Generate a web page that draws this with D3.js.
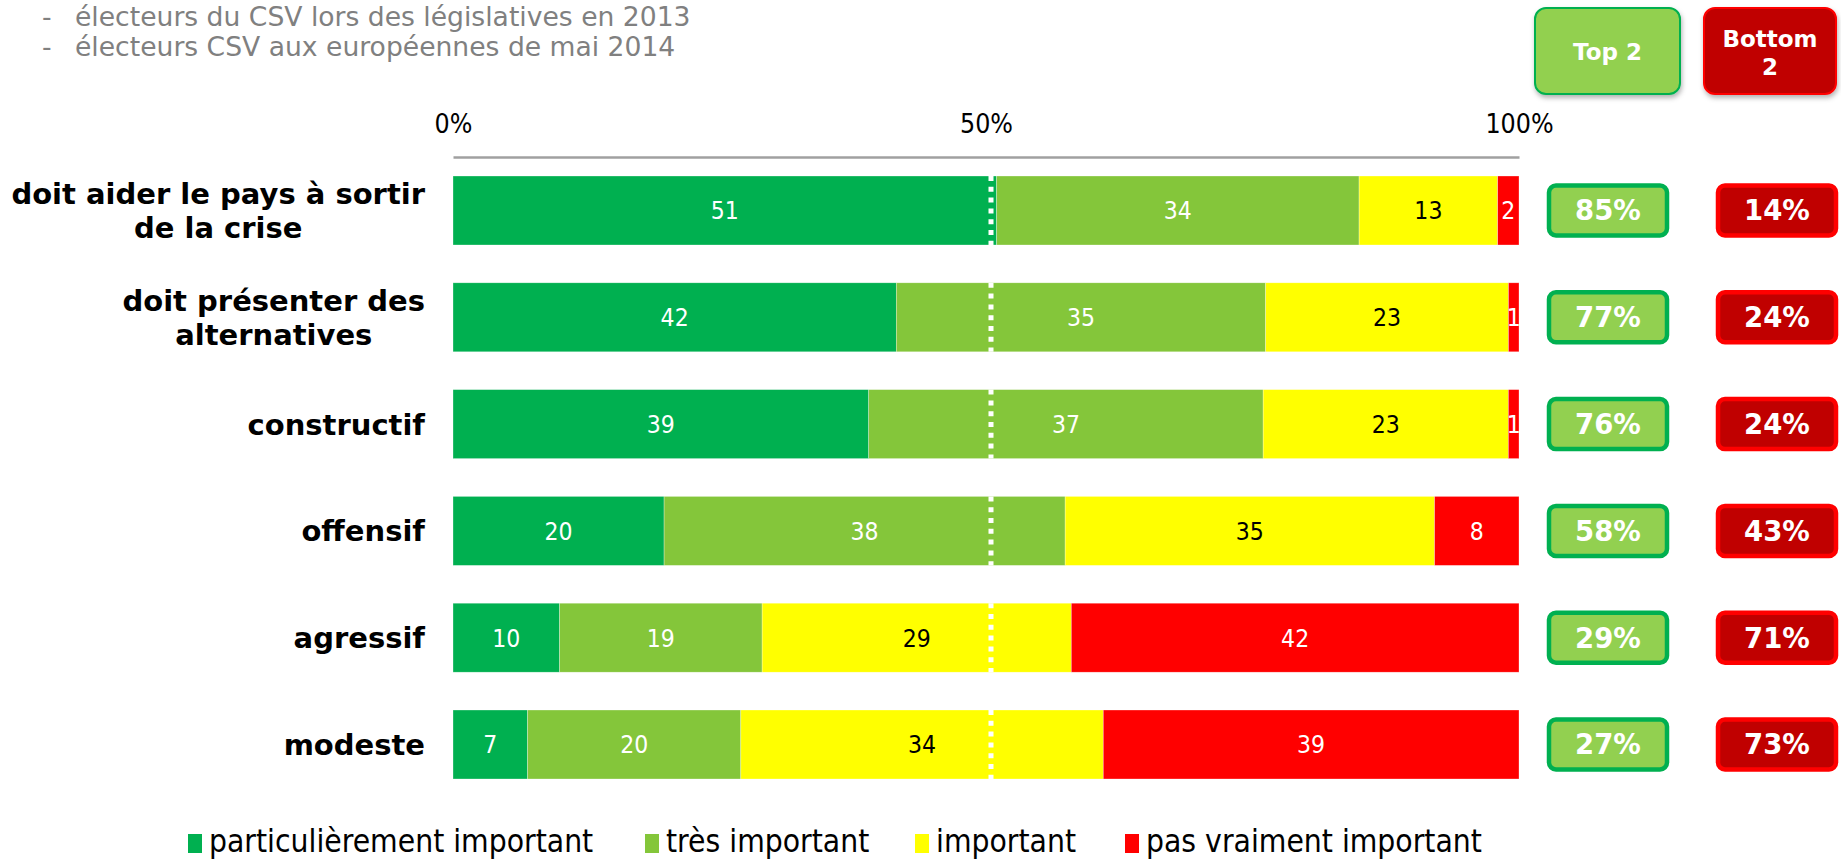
<!DOCTYPE html>
<html>
<head>
<meta charset="utf-8">
<script src="https://cdn.jsdelivr.net/npm/d3@7"></script>
<style>
  html, body { margin: 0; padding: 0; background: #fff; }
  svg { display: block; }
</style>
</head>
<body>
<div id="chart"></div>
<script>
// values
const categories = [
  ["doit aider le pays à sortir", "de la crise"],
  ["doit présenter des", "alternatives"],
  ["constructif"],
  ["offensif"],
  ["agressif"],
  ["modeste"]
];
const seriesNames = ["particulièrement important", "très important", "important", "pas vraiment important"];
const partImportant = [51, 42, 39, 20, 10, 7];
const tresImportant = [34, 35, 37, 38, 19, 20];
const important     = [13, 23, 23, 35, 29, 34];
const pasVraiment   = [2, 1, 1, 8, 42, 39];
const top2    = [85, 77, 76, 58, 29, 27];
const bottom2 = [14, 24, 24, 43, 71, 73];
const tickValues = [0, 50, 100];
const subtitle = ["électeurs du CSV lors des législatives en 2013", "électeurs CSV aux européennes de mai 2014"];

const colors = ["#00B050", "#84C63A", "#FFFF00", "#FF0000"];
const labelColors = ["#fff", "#fff", "#000", "#fff"];

const width = 1841, height = 859;
const condensed = "'DejaVu Sans Condensed', 'Liberation Sans Narrow', 'DejaVu Sans', sans-serif";
const regular = "'DejaVu Sans', Verdana, sans-serif";
const boldFont = "'DejaVu Sans', Verdana, sans-serif";

const series = [partImportant, tresImportant, important, pasVraiment];
const rows = categories.map((c, i) => {
  const vals = series.map(s => s[i]);
  const total = d3.sum(vals);
  let acc = 0;
  const segs = vals.map((v, k) => {
    const s = {k, v, x0: acc / total * 100, x1: (acc + v) / total * 100};
    acc += v;
    return s;
  });
  return {i, label: c, segs};
});

const svg = d3.select("#chart").append("svg")
    .attr("width", width)
    .attr("height", height)
    .attr("viewBox", [0, 0, width, height]);

const defs = svg.append("defs");
defs.append("filter").attr("id", "shadow")
    .attr("x", "-20%").attr("y", "-20%").attr("width", "140%").attr("height", "150%")
  .append("feDropShadow")
    .attr("dx", 1).attr("dy", 3).attr("stdDeviation", 2.5)
    .attr("flood-color", "#000").attr("flood-opacity", 0.3);

const x = d3.scaleLinear().domain([0, 100]).range([453, 1519]);
const y = d3.scaleBand()
    .domain(d3.range(categories.length))
    .range([157.1, 797.9])
    .paddingInner(0.354)
    .paddingOuter(0.177);

// subtitle lines
const sub = svg.append("g")
    .attr("font-family", regular)
    .attr("font-size", 26.6)
    .attr("fill", "#808080");
sub.selectAll("g")
  .data(subtitle)
  .join("g")
    .attr("transform", (d, i) => `translate(0,${26 + i * 30})`)
    .call(g => g.append("text").attr("x", 42).text("-"))
    .call(g => g.append("text").attr("x", 75).text(d => d));

// top axis
svg.append("g")
    .attr("transform", `translate(0,157)`)
    .call(d3.axisTop(x).tickValues(tickValues).tickFormat(d => d + "%").tickSize(0).tickPadding(24))
    .call(g => g.select(".domain").attr("stroke", "#A0A0A0").attr("stroke-width", 2.5))
    .call(g => g.selectAll(".tick text")
        .attr("font-family", condensed)
        .attr("font-size", 26.5)
        .attr("fill", "#000"));

// bars
const row = svg.append("g")
  .selectAll("g")
  .data(rows)
  .join("g")
    .attr("transform", d => `translate(0,${y(d.i)})`);

row.selectAll("rect")
  .data(d => d.segs)
  .join("rect")
    .attr("x", d => x(d.x0))
    .attr("width", d => x(d.x1) - x(d.x0))
    .attr("height", y.bandwidth())
    .attr("fill", d => colors[d.k])
    .attr("stroke", "#fff")
    .attr("stroke-opacity", 0.5)
    .attr("stroke-width", 0.6);

// dotted 50% line
row.append("line")
    .attr("x1", x(50) + 5).attr("x2", x(50) + 5)
    .attr("y1", 0).attr("y2", y.bandwidth())
    .attr("stroke", "#fff")
    .attr("stroke-width", 5)
    .attr("stroke-dasharray", "5 5.8");

row.selectAll("text.val")
  .data(d => d.segs)
  .join("text")
    .attr("class", "val")
    .attr("x", d => (x(d.x0) + x(d.x1)) / 2)
    .attr("y", y.bandwidth() / 2)
    .attr("dy", "0.36em")
    .attr("text-anchor", "middle")
    .attr("font-family", condensed)
    .attr("font-size", 24.5)
    .attr("fill", d => labelColors[d.k])
    .text(d => d.v);

// category labels: centred lines, block right-aligned
const labelRight = 425;
const lineH = 34;
row.each(function(d) {
  const g = d3.select(this).append("text")
      .attr("font-family", boldFont)
      .attr("font-weight", "bold")
      .attr("font-size", 29)
      .attr("fill", "#000")
      .attr("text-anchor", "middle");
  const n = d.label.length;
  const tspans = d.label.map((t, j) => g.append("tspan")
      .attr("y", y.bandwidth() / 2 + 10.5 + (j - (n - 1) / 2) * lineH)
      .text(t));
  const w = d3.max(tspans, t => t.node().getComputedTextLength());
  tspans.forEach(t => t.attr("x", labelRight - w / 2));
});

// Top 2 / Bottom 2 boxes
const boxH = 50;
function valueBox(g, x0, w, fill, stroke, text) {
  g.append("rect")
      .attr("x", x0).attr("y", y.bandwidth() / 2 - boxH / 2)
      .attr("width", w).attr("height", boxH)
      .attr("rx", 7)
      .attr("fill", fill)
      .attr("stroke", stroke)
      .attr("stroke-width", 4.5);
  g.append("text")
      .attr("x", x0 + w / 2)
      .attr("y", y.bandwidth() / 2)
      .attr("dy", "0.36em")
      .attr("text-anchor", "middle")
      .attr("font-family", boldFont)
      .attr("font-weight", "bold")
      .attr("font-size", 27.5)
      .attr("fill", "#fff")
      .text(text);
}
row.each(function(d) {
  const g = d3.select(this);
  valueBox(g, 1549, 118, "#92D050", "#00B050", top2[d.i] + "%");
  valueBox(g, 1718, 118, "#C00000", "#FF0000", bottom2[d.i] + "%");
});

// header boxes
const head = svg.append("g").attr("font-family", boldFont).attr("font-weight", "bold")
    .attr("font-size", 23).attr("fill", "#fff").attr("text-anchor", "middle");
head.append("rect")
    .attr("x", 1535).attr("y", 8).attr("width", 145).attr("height", 86).attr("rx", 11)
    .attr("fill", "#92D050").attr("stroke", "#00B050").attr("stroke-width", 2)
    .attr("filter", "url(#shadow)");
head.append("text").attr("x", 1607.5).attr("y", 60).text("Top 2");
head.append("rect")
    .attr("x", 1704).attr("y", 8).attr("width", 132).attr("height", 86).attr("rx", 11)
    .attr("fill", "#C00000").attr("stroke", "#FF0000").attr("stroke-width", 2)
    .attr("filter", "url(#shadow)");
head.append("text").attr("x", 1770).attr("y", 47).text("Bottom");
head.append("text").attr("x", 1770).attr("y", 75).text("2");

// legend
const legendX = [188, 645, 915, 1125];
const legend = svg.append("g")
    .attr("font-family", condensed)
    .attr("font-size", 31.5)
  .selectAll("g")
  .data(seriesNames)
  .join("g")
    .attr("transform", (d, i) => `translate(${legendX[i]},0)`);
legend.append("rect")
    .attr("y", 834).attr("width", 14).attr("height", 19)
    .attr("fill", (d, i) => colors[i]);
legend.append("text")
    .attr("x", 21).attr("y", 852)
    .attr("fill", "#000")
    .text(d => d);
</script>
</body>
</html>
